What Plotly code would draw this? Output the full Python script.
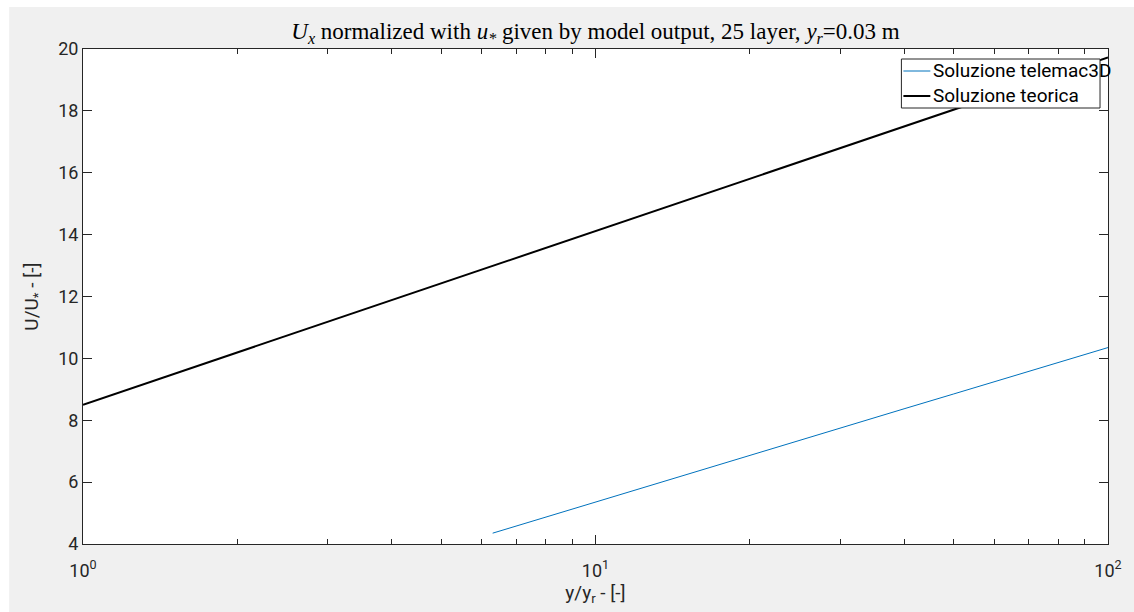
import plotly.graph_objects as go

# Telemac3D profile, normalized height vs normalized velocity
telemac_x = [6.3, 10, 15, 20, 30, 40, 50, 60, 70, 80, 90, 100]
telemac_y = [4.35, 5.36, 6.24, 6.86, 7.74, 8.37, 8.85, 9.25, 9.58, 9.87, 10.13, 10.35]

# Theoretical log-law profile
theory_x = [1, 2, 3, 5, 10, 20, 30, 50, 100]
theory_y = [8.50, 10.19, 11.18, 12.43, 14.12, 15.81, 16.79, 18.04, 19.73]

series_names = ["Soluzione telemac3D", "Soluzione teorica"]
series_colors = ["#0072BD", "#000000"]
series_widths = [1, 2]

x_major = [1, 10, 100]
x_major_text = ["10<sup>0</sup>", "10<sup>1</sup>", "10<sup>2</sup>"]
x_minor = [2, 3, 4, 5, 6, 7, 8, 9, 20, 30, 40, 50, 60, 70, 80, 90]
y_ticks = [4, 6, 8, 10, 12, 14, 16, 18, 20]

AX = "#262626"
FONT = "Roboto"

# plot-area geometry in pixels (for paper-coordinate placement)
L, R, T, B = 83, 1110, 49, 544
PW, PH = R - L, B - T


def px(x):
    return (x - L) / PW


def py(y):
    return (B - y) / PH


fig = go.Figure()
for xs, ys, name, col, w in zip([telemac_x, theory_x], [telemac_y, theory_y],
                                series_names, series_colors, series_widths):
    fig.add_trace(go.Scatter(x=xs, y=ys, mode="lines", name=name,
                             line=dict(color=col, width=w)))

shapes = [
    # white strips along the top and left edges of the figure
    dict(type="rect", xref="paper", yref="paper",
         x0=px(-5), x1=px(9), y0=py(620), y1=py(-5),
         fillcolor="#ffffff", line=dict(width=0), layer="below"),
    dict(type="rect", xref="paper", yref="paper",
         x0=px(-5), x1=px(1140), y0=py(7), y1=py(-5),
         fillcolor="#ffffff", line=dict(width=0), layer="below"),
    # legend box
    dict(type="rect", xref="paper", yref="paper",
         x0=px(903), x1=px(1102), y0=py(108), y1=py(59),
         fillcolor="#ffffff", line=dict(color=AX, width=1), layer="above"),
]
annotations = []
legend_rows = [71, 96]
for name, col, w, ry in zip(series_names, series_colors, series_widths, legend_rows):
    shapes.append(dict(type="line", xref="paper", yref="paper",
                       x0=px(905), x1=px(932), y0=py(ry), y1=py(ry),
                       line=dict(color=col, width=w), layer="above"))
    annotations.append(dict(text=name, xref="paper", yref="paper",
                            x=px(933), y=py(ry), xanchor="left", yanchor="middle",
                            showarrow=False,
                            font=dict(family=FONT, size=19, color="#000000")))

fig.update_layout(
    width=1134, height=612,
    margin=dict(l=L, r=1134 - R, t=T, b=612 - B),
    paper_bgcolor="#f0f0f0",
    plot_bgcolor="#ffffff",
    font=dict(family=FONT, size=18, color=AX),
    title=dict(
        text="<i>U<sub>x</sub></i> normalized with <i>u<sub>*</sub></i> given by model output, 25 layer, <i>y<sub>r</sub></i>=0.03 m",
        font=dict(family="Liberation Serif", size=23, color="#000000"),
        x=0.5, xref="paper", xanchor="center",
        y=1 - 31 / 612, yref="container", yanchor="middle",
    ),
    showlegend=False,
    shapes=shapes,
    annotations=annotations,
)

fig.update_xaxes(
    type="log", range=[0, 2],
    tickmode="array", tickvals=x_major, ticktext=x_major_text,
    ticks="inside", ticklen=9, tickwidth=1, tickcolor=AX,
    showline=True, linecolor=AX, linewidth=1, mirror="ticks",
    showgrid=False, zeroline=False,
    ticklabelstandoff=10,
    minor=dict(tickmode="array", tickvals=x_minor, ticks="inside",
               ticklen=5, tickwidth=1, tickcolor=AX, showgrid=False),
    title=dict(text="y/y<sub>r</sub> - [-]", standoff=4,
               font=dict(family=FONT, size=19, color=AX)),
    tickfont=dict(family=FONT, size=18, color=AX),
)
fig.update_yaxes(
    range=[4, 20], tickmode="array", tickvals=y_ticks,
    ticks="inside", ticklen=9, tickwidth=1, tickcolor=AX,
    showline=True, linecolor=AX, linewidth=1, mirror="ticks",
    showgrid=False, zeroline=False,
    title=dict(text="U/U<sub>*</sub> - [-]", standoff=14,
               font=dict(family=FONT, size=19, color=AX)),
    tickfont=dict(family=FONT, size=18, color=AX),
)

fig.write_html("out.html")
